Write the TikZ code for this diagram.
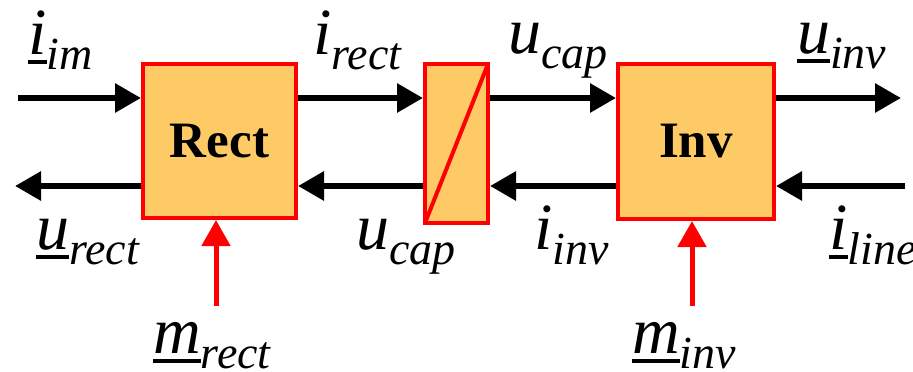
\documentclass[tikz,border=0pt]{standalone}
\usepackage{fontspec}
\setmainfont{LiberationSerif}[Extension=.ttf,UprightFont=*-Regular,ItalicFont=*-Italic,BoldFont=*-Bold,BoldItalicFont=*-BoldItalic]
\usetikzlibrary{arrows.meta}
\definecolor{boxfill}{HTML}{FDCA66}
\definecolor{wire}{HTML}{FF0000}
\newcommand{\mainsz}{\fontsize{66}{66}\selectfont\itshape}
\newcommand{\subsz}{\fontsize{46}{46}\selectfont\itshape}
\newcommand{\sig}[2]{{\mainsz #1}\raisebox{-15pt}{\subsz #2}}
\newcommand{\usig}[2]{\setbox0\hbox{\mainsz #1}\rlap{\rule[-10pt]{\wd0}{4pt}}\box0\raisebox{-15pt}{\subsz #2}}

\begin{document}
\begin{tikzpicture}[x=1pt,y=-1pt,
  block/.style={draw=wire,fill=boxfill,line width=4pt,font=\fontsize{51}{51}\selectfont\bfseries},
  flow/.style={line width=6pt,-{Triangle[length=26pt,width=28pt]}},
  ctrl/.style={flow,wire,line width=5pt},
  lbl/.style={anchor=base west,inner sep=0pt}]
\useasboundingbox (0,0) rectangle (913,372);
% blocks
\node[block,minimum width=153pt,minimum height=154pt] (rect) at (219.5,141) {Rect};
\node[block,minimum width=63pt,minimum height=159pt] (cap) at (456.5,143.5) {};
\draw[wire,line width=4pt] ([shift={(2pt,2pt)}]cap.south west) -- ([shift={(-2pt,-2pt)}]cap.north east);
\node[block,minimum width=156pt,minimum height=155pt] (inv) at (696,141.5) {Inv};
% free ends
\coordinate (up) at (0,98); \coordinate (lo) at (0,186);
\coordinate (iin) at (18,98); \coordinate (uout) at (901,98);
\coordinate (urect) at (15,186); \coordinate (iline) at (905,186);
\coordinate (mr) at (216,306); \coordinate (mi) at (692,306);
% forward path
\draw[flow] (iin) -- (rect.west |- up);
\draw[flow] (rect.east |- up) -- (cap.west |- up);
\draw[flow] (cap.east |- up) -- (inv.west |- up);
\draw[flow] (inv.east |- up) -- (uout);
% return path
\draw[flow] (rect.west |- lo) -- (urect);
\draw[flow] (cap.west |- lo) -- (rect.east |- lo);
\draw[flow] (inv.west |- lo) -- (cap.east |- lo);
\draw[flow] (iline) -- (inv.east |- lo);
% modulation inputs
\draw[ctrl] (mr) -- (mr |- rect.south);
\draw[ctrl] (mi) -- (mi |- inv.south);
% labels
\node[lbl] (Liim) at (28,54) {\usig{i}{im}};
\node[lbl] (Lirect) at (313,54) {\sig{i}{rect}};
\node[lbl] (Lucap) at (508,53) {\sig{u}{cap}};
\node[lbl] (Luinv) at (797,53) {\usig{u}{inv}};
\node[lbl] (Lurect) at (36,249) {\usig{u}{rect}};
\node[lbl] (Lucapb) at (356,249) {\sig{u}{cap}};
\node[lbl] (Liinv) at (534,249) {\sig{i}{inv}};
\node[lbl] (Liline) at (829,249) {\usig{i}{line}};
\node[lbl] (Lmrect) at (153,353) {\usig{m}{rect}};
\node[lbl] (Lminv) at (632,353) {\usig{m}{inv}};
\end{tikzpicture}
\end{document}
